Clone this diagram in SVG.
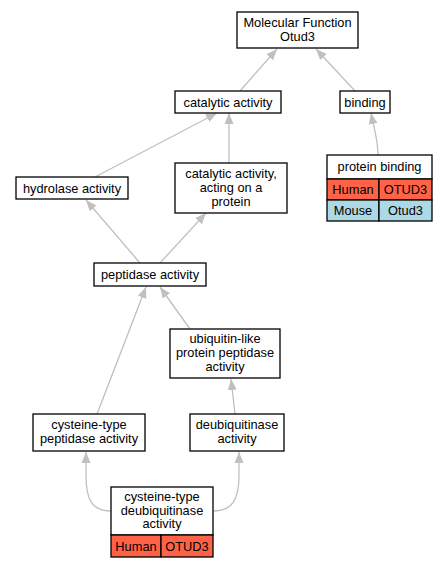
<svg xmlns="http://www.w3.org/2000/svg" width="445" height="568" viewBox="0 0 445 568">
<style>
.n rect{fill:#fff;stroke:#000;stroke-width:1.3}
.n rect.h{fill:#ff6347}
.n rect.m{fill:#add8e6}
text{font-family:"Liberation Sans",Arial,sans-serif;font-size:12.8px;text-anchor:middle;fill:#000}
.e path{fill:none;stroke:#c0c0c0;stroke-width:1.3;marker-end:url(#a)}
</style>
<defs>
<marker id="a" markerUnits="userSpaceOnUse" markerWidth="12" markerHeight="12" viewBox="0 0 12 12" refX="11" refY="6" orient="auto">
<polygon points="0,1.5 11,6 0,10.5" fill="#c0c0c0"/>
</marker>
</defs>
<rect width="445" height="568" fill="#fff"/>
<g class="e">
<path d="M240,91 L277,49"/>
<path d="M355,91 L316,49"/>
<path d="M95,177 L217,113"/>
<path d="M229,163 L229,113"/>
<path d="M378,155 C378,140 374,128 371,113"/>
<path d="M140,263 L86,200"/>
<path d="M160,263 L206,213"/>
<path d="M190,329 L160,287"/>
<path d="M97,414 L146,287"/>
<path d="M235,414 L231,379"/>
<path d="M111,511 C92,511 86,500 86,475 L86,452"/>
<path d="M213,511 C232,511 239,500 239,475 L239,452"/>
</g>
<g id="mf" class="n"><rect x="237" y="12" width="121" height="36"/><text x="297.5" y="27">Molecular Function</text><text x="297.5" y="41">Otud3</text></g>
<g id="catalytic" class="n"><rect x="175" y="91" width="106" height="22"/><text x="228" y="106.5">catalytic activity</text></g>
<g id="binding" class="n"><rect x="340" y="91" width="50" height="22"/><text x="365" y="106.5">binding</text></g>
<g id="hydrolase" class="n"><rect x="16" y="177" width="112" height="22"/><text x="72" y="192.5">hydrolase activity</text></g>
<g id="acting" class="n"><rect x="175" y="163" width="112" height="50"/><text x="231" y="178">catalytic activity,</text><text x="231" y="192">acting on a</text><text x="231" y="206">protein</text></g>
<g id="protein-binding" class="n"><rect x="327" y="155" width="105" height="24"/><rect class="h" x="327" y="179" width="52" height="21"/><rect class="h" x="379" y="179" width="53" height="21"/><rect class="m" x="327" y="200" width="52" height="21"/><rect class="m" x="379" y="200" width="53" height="21"/><text x="379.5" y="171">protein binding</text><text x="353" y="194">Human</text><text x="405.5" y="194">OTUD3</text><text x="353" y="215">Mouse</text><text x="405.5" y="215">Otud3</text></g>
<g id="peptidase" class="n"><rect x="94" y="263" width="112" height="23"/><text x="150" y="279">peptidase activity</text></g>
<g id="ubiquitin" class="n"><rect x="170" y="329" width="110" height="49"/><text x="225" y="343">ubiquitin-like</text><text x="225" y="357">protein peptidase</text><text x="225" y="371">activity</text></g>
<g id="cys-peptidase" class="n"><rect x="33" y="414" width="112" height="37"/><text x="89" y="429">cysteine-type</text><text x="89" y="443">peptidase activity</text></g>
<g id="deubiquitinase" class="n"><rect x="190" y="414" width="94" height="37"/><text x="237" y="429">deubiquitinase</text><text x="237" y="443">activity</text></g>
<g id="cys-deubiquitinase" class="n"><rect x="111" y="487" width="102" height="48"/><rect class="h" x="111" y="535" width="50" height="22"/><rect class="h" x="161" y="535" width="52" height="22"/><text x="162" y="501">cysteine-type</text><text x="162" y="514.5">deubiquitinase</text><text x="162" y="528">activity</text><text x="136" y="550.5">Human</text><text x="187" y="550.5">OTUD3</text></g>
</svg>
